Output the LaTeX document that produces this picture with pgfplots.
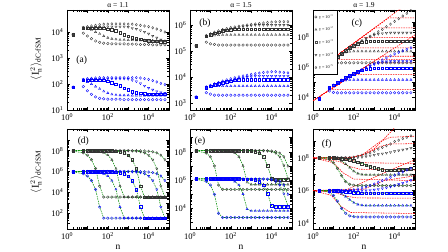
\documentclass[border=0pt]{standalone}
\usepackage{amsmath}
\usepackage{fontspec}
\setmainfont{Liberation Serif}
\usepackage{pgfplots}
\pgfplotsset{compat=1.18}
\usepackage{pgfplotstable}

\newcommand{\tfont}{\fontsize{8.5}{9}\selectfont}
\newcommand{\ttfont}{\fontsize{7.5}{8}\selectfont}
\newcommand{\plab}{\fontsize{9.5}{10}\selectfont}
\newcommand{\ylfont}{\fontsize{10.5}{11}\selectfont}
\newcommand{\lfont}{\fontsize{4.2}{5}\selectfont}

\pgfplotstableread{
n k1 k2 k3 k4 k5 b1 b2 b3 b4 b5
2 8e3 8e3 8e3 8e3 8e3 75 75 75 75 75
6.3 9e3 1.3e4 1.4e4 1.5e4 1.5e4 80 130 140 150 150
10 7e3 1.3e4 1.4e4 1.5e4 1.6e4 55 120 140 150 160
15.8 5.5e3 1.2e4 1.4e4 1.5e4 1.7e4 40 100 140 155 165
25.1 4.5e3 1e4 1.4e4 1.55e4 1.8e4 32 80 140 155 170
39.8 4e3 8.5e3 1.4e4 1.55e4 1.9e4 28 65 140 160 175
63.1 3.7e3 7e3 1.4e4 1.6e4 2e4 27 52 140 160 175
100 3.6e3 6e3 1.3e4 1.6e4 2e4 26 45 130 160 175
158 3.5e3 5.5e3 1.2e4 1.6e4 2.05e4 26 40 115 160 175
251 3.5e3 5.2e3 1.1e4 1.6e4 2.05e4 26 38 100 160 175
398 3.5e3 5e3 9.5e3 1.6e4 2.05e4 26 37 85 160 175
631 3.5e3 5e3 8e3 1.6e4 2.05e4 25 37 70 160 175
1000 3.4e3 4.9e3 7e3 1.55e4 2e4 25 37 60 155 175
1585 3.4e3 4.9e3 6.2e3 1.4e4 2e4 25 36 52 140 175
2512 3.4e3 4.8e3 5.6e3 1.3e4 1.9e4 25 36 47 125 175
3981 3.3e3 4.8e3 5.2e3 1.15e4 1.8e4 25 36 44 105 170
6310 3.3e3 4.8e3 4.9e3 1e4 1.7e4 25 36 42 85 160
10000 3.3e3 4.7e3 4.7e3 8.5e3 1.6e4 25 36 41 70 150
15849 3.2e3 4.7e3 4.5e3 7e3 1.45e4 25 36 40 60 135
25119 3.2e3 4.6e3 4.4e3 6e3 1.3e4 25 36 40 52 120
39811 3.2e3 4.6e3 4.3e3 5e3 1.15e4 25 36 40 47 105
63096 3.2e3 4.5e3 4.2e3 4.5e3 1e4 25 36 40 45 95
}\tA

\pgfplotstableread{
n k1 k2 k3 k4 k5 b1 b2 b3 b4 b5
2 1.6e5 1.6e5 1.6e5 1.6e5 1.6e5 1.7e3 1.7e3 1.7e3 1.7e3 1.7e3
6.3 2.2e5 3.5e5 3.7e5 3.8e5 4e5 2.5e3 4e3 4e3 4e3 4.2e3
10 1.9e5 3.8e5 4.2e5 4.3e5 4.6e5 2.2e3 4.3e3 4.5e3 4.6e3 4.8e3
15.8 1.8e5 4e5 4.8e5 4.9e5 5.3e5 2e3 4.5e3 5e3 5.2e3 5.5e3
25.1 1.7e5 4.1e5 5.4e5 5.5e5 6e5 2e3 4.5e3 5.5e3 5.8e3 6.2e3
39.8 1.7e5 4.2e5 6e5 6.1e5 6.7e5 2e3 4.5e3 6e3 6.4e3 7e3
63.1 1.7e5 4.2e5 6.4e5 6.7e5 7.3e5 2e3 4.5e3 6.5e3 7e3 7.8e3
100 1.7e5 4.2e5 6.7e5 7.3e5 8e5 2e3 4.5e3 7e3 7.6e3 8.6e3
158 1.7e5 4.2e5 6.9e5 7.8e5 8.5e5 2e3 4.5e3 7.5e3 8.2e3 9.4e3
251 1.7e5 4.2e5 7e5 8.3e5 9e5 2e3 4.5e3 8e3 8.8e3 1.02e4
398 1.7e5 4.2e5 7e5 8.8e5 9.5e5 2e3 4.5e3 8e3 9.4e3 1.1e4
631 1.7e5 4.2e5 7e5 9.2e5 1e6 2e3 4.5e3 8e3 1e4 1.18e4
1000 1.7e5 4.2e5 7e5 9.6e5 1.05e6 2e3 4.5e3 8e3 1.05e4 1.26e4
1585 1.7e5 4.2e5 7e5 1e6 1.1e6 2e3 4.5e3 8e3 1.1e4 1.34e4
2512 1.7e5 4.2e5 7e5 1e6 1.15e6 2e3 4.5e3 8e3 1.1e4 1.42e4
3981 1.7e5 4.2e5 7e5 1e6 1.2e6 2e3 4.5e3 8e3 1.1e4 1.5e4
6310 1.7e5 4.2e5 7e5 1e6 1.25e6 2e3 4.5e3 8e3 1.1e4 1.55e4
10000 1.7e5 4.2e5 7e5 1e6 1.3e6 2e3 4.5e3 8e3 1.1e4 1.6e4
15849 1.7e5 4.2e5 7e5 1e6 1.33e6 2e3 4.5e3 8e3 1.1e4 1.6e4
25119 1.7e5 4.2e5 7e5 1e6 1.35e6 2e3 4.5e3 8e3 1.1e4 1.55e4
39811 1.7e5 4.2e5 7e5 1e6 1.35e6 2e3 4.5e3 8e3 1.1e4 1.5e4
63096 1.7e5 4.2e5 7e5 1e6 1.35e6 2e3 4.5e3 8e3 1.1e4 1.45e4
}\tB

\pgfplotstableread{
n k1 k2 k3 k4 k5 b1 b2 b3 b4 b5
2 5.6e5 5.6e5 5.6e5 5.6e5 5.6e5 7.8e3 7.8e3 7.8e3 7.8e3 7.8e3
6.3 1.9e6 2e6 2e6 2e6 2e6 2.5e4 4e4 4e4 4e4 4e4
10 1.9e6 3.2e6 3.2e6 3.2e6 3.2e6 2e4 6e4 6e4 6e4 6e4
15.8 1.9e6 5e6 5e6 5e6 5e6 1.9e4 8.5e4 8.9e4 8.9e4 8.9e4
25.1 1.9e6 7.5e6 7.9e6 7.9e6 7.9e6 1.9e4 1.1e5 1.3e5 1.3e5 1.3e5
39.8 1.9e6 9.5e6 1.26e7 1.26e7 1.26e7 1.9e4 1.3e5 1.9e5 1.9e5 1.9e5
63.1 1.9e6 1.05e7 1.9e7 1.9e7 1.9e7 1.9e4 1.4e5 2.6e5 2.6e5 2.6e5
100 1.9e6 1.1e7 2.7e7 2.8e7 2.8e7 1.9e4 1.4e5 3.6e5 3.6e5 3.6e5
158 1.9e6 1.1e7 3.6e7 4e7 4e7 1.9e4 1.4e5 4.7e5 4.9e5 4.9e5
251 1.9e6 1.1e7 4.4e7 5.6e7 5.6e7 1.9e4 1.4e5 6e5 6.6e5 6.6e5
398 1.9e6 1.1e7 4.9e7 7.9e7 7.9e7 1.9e4 1.4e5 7e5 8.9e5 8.9e5
631 1.9e6 1.1e7 5.1e7 1.05e8 1.12e8 1.9e4 1.4e5 7.8e5 1.2e6 1.2e6
1000 1.9e6 1.1e7 5.2e7 1.35e8 1.58e8 1.9e4 1.4e5 8.3e5 1.5e6 1.6e6
1585 1.9e6 1.1e7 5.2e7 1.6e8 2.24e8 1.9e4 1.4e5 8.5e5 1.8e6 2.1e6
2512 1.9e6 1.1e7 5.2e7 1.75e8 3.16e8 1.9e4 1.4e5 8.5e5 2.1e6 2.9e6
3981 1.9e6 1.1e7 5.2e7 1.85e8 4.8e8 1.9e4 1.4e5 8.5e5 2.3e6 4e6
6310 1.9e6 1.1e7 5.2e7 1.9e8 7.2e8 1.9e4 1.4e5 8.5e5 2.4e6 5.5e6
10000 1.9e6 1.1e7 5.2e7 1.9e8 1.1e9 1.9e4 1.4e5 8.5e5 2.4e6 7.4e6
15849 1.9e6 1.1e7 5.2e7 1.9e8 1.66e9 1.9e4 1.4e5 8.5e5 2.4e6 9.5e6
25119 1.9e6 1.1e7 5.2e7 1.9e8 2.5e9 1.9e4 1.4e5 8.5e5 2.4e6 1.2e7
39811 1.9e6 1.1e7 5.2e7 1.9e8 3.8e9 1.9e4 1.4e5 8.5e5 2.4e6 1.5e7
63096 1.9e6 1.1e7 5.2e7 1.9e8 5.75e9 1.9e4 1.4e5 8.5e5 2.4e6 1.9e7
}\tC

\pgfplotstableread{
n k1 k2 k3 k4 k5 b1 b2 b3 b4 b5
2 9.1e7 1e8 1e8 1e8 1e8 9.1e5 1e6 1e6 1e6 1e6
6.3 6.1e7 1e8 1e8 1e8 1e8 6.1e5 1e6 1e6 1e6 1e6
10 3.7e7 9.7e7 1e8 1e8 1e8 3.7e5 9.7e5 1e6 1e6 1e6
15.8 1.35e7 9.4e7 1e8 1e8 1e8 1.35e5 9.4e5 1e6 1e6 1e6
25.1 1.9e6 8.8e7 1e8 1e8 1e8 1.9e4 8.8e5 1e6 1e6 1e6
39.8 3.95e4 7.8e7 1e8 1e8 1e8 393 7.8e5 1e6 1e6 1e6
63.1 3.5e3 6.1e7 1e8 1e8 1e8 33 6.1e5 1e6 1e6 1e6
100 3.5e3 3.7e7 9.7e7 1e8 1e8 33 3.7e5 9.7e5 1e6 1e6
158 3.5e3 1.35e7 9.4e7 1e8 1e8 33 1.35e5 9.4e5 1e6 1e6
251 3.5e3 1.9e6 8.8e7 1e8 1e8 33 1.9e4 8.8e5 1e6 1e6
398 3.5e3 3.95e4 7.8e7 1e8 1e8 33 393 7.8e5 1e6 1e6
631 3.5e3 3.5e3 6.1e7 1e8 1e8 33 33 6.1e5 1e6 1e6
1000 3.5e3 3.5e3 3.7e7 9.7e7 1e8 33 33 3.7e5 9.7e5 1e6
1585 3.5e3 3.5e3 1.35e7 9.4e7 1e8 33 33 1.35e5 9.4e5 1e6
2512 3.5e3 3.5e3 1.9e6 8.8e7 1e8 33 33 1.9e4 8.8e5 1e6
3981 3.5e3 3.5e3 3.95e4 7.8e7 9.7e7 33 33 393 7.8e5 9.7e5
6310 3.5e3 3.5e3 3.5e3 6.1e7 9.4e7 33 33 33 6.1e5 9.4e5
10000 3.5e3 3.5e3 3.5e3 3.7e7 8.8e7 33 33 33 3.7e5 8.8e5
15849 3.5e3 3.5e3 3.5e3 1.35e7 7.8e7 33 33 33 1.35e5 7.8e5
25119 3.5e3 3.5e3 3.5e3 1.9e6 6.1e7 33 33 33 1.9e4 6.1e5
39811 3.5e3 3.5e3 3.5e3 3.95e4 3.7e7 33 33 33 393 3.7e5
63096 3.5e3 3.5e3 3.5e3 3.5e3 1.35e7 33 33 33 33 1.35e5
}\tD

\pgfplotstableread{
n k1 k2 k3 k4 k5 b1 b2 b3 b4 b5
2 1.15e8 1.2e8 1.2e8 1.2e8 1.2e8 1.15e6 1.2e6 1.2e6 1.2e6 1.2e6
6.3 8e7 1.2e8 1.2e8 1.2e8 1.2e8 8e5 1.2e6 1.2e6 1.2e6 1.2e6
10 4.45e7 1.2e8 1.2e8 1.2e8 1.2e8 4.45e5 1.2e6 1.2e6 1.2e6 1.2e6
15.8 9.9e6 1.2e8 1.2e8 1.2e8 1.2e8 9.9e4 1.2e6 1.2e6 1.2e6 1.2e6
25.1 4.4e5 1.19e8 1.2e8 1.2e8 1.2e8 4.5e3 1.19e6 1.2e6 1.2e6 1.2e6
39.8 2.2e5 1.17e8 1.2e8 1.2e8 1.2e8 2.3e3 1.17e6 1.2e6 1.2e6 1.2e6
63.1 2.2e5 1.13e8 1.2e8 1.2e8 1.2e8 2.3e3 1.13e6 1.2e6 1.2e6 1.2e6
100 2.2e5 1.02e8 1.2e8 1.2e8 1.2e8 2.3e3 1.02e6 1.2e6 1.2e6 1.2e6
158 2.2e5 8e7 1.2e8 1.2e8 1.2e8 2.3e3 8e5 1.2e6 1.2e6 1.2e6
251 2.2e5 4.45e7 1.2e8 1.2e8 1.2e8 2.3e3 4.45e5 1.2e6 1.2e6 1.2e6
398 2.2e5 1.02e7 1.19e8 1.2e8 1.2e8 2.3e3 1.04e5 1.19e6 1.2e6 1.2e6
631 2.2e5 7e5 1.17e8 1.2e8 1.2e8 2.3e3 8.9e3 1.17e6 1.2e6 1.2e6
1000 2.2e5 4.9e5 1.13e8 1.2e8 1.2e8 2.3e3 6.7e3 1.13e6 1.2e6 1.2e6
1585 2.2e5 4.9e5 1.02e8 1.2e8 1.2e8 2.3e3 6.7e3 1.02e6 1.2e6 1.2e6
2512 2.2e5 4.9e5 8e7 1.19e8 1.2e8 2.3e3 6.7e3 8e5 1.19e6 1.2e6
3981 2.2e5 4.9e5 4.5e7 1.17e8 1.2e8 2.3e3 6.7e3 4.5e5 1.17e6 1.2e6
6310 2.2e5 4.9e5 1.07e7 1.13e8 1.17e8 2.3e3 6.7e3 1.1e5 1.13e6 1.17e6
10000 2.2e5 4.9e5 1.3e6 1.02e8 1.13e8 2.3e3 6.7e3 1.5e4 1.02e6 1.13e6
15849 2.2e5 4.9e5 1.1e6 8e7 1.02e8 2.3e3 6.7e3 1.3e4 8e5 1.02e6
25119 2.2e5 4.9e5 1.1e6 4.5e7 8e7 2.3e3 6.7e3 1.3e4 4.5e5 8e5
39811 2.2e5 4.9e5 1.1e6 1.07e7 4.45e7 2.3e3 6.7e3 1.3e4 1.1e5 4.45e5
63096 2.2e5 4.9e5 1.1e6 1.3e6 9.7e6 2.3e3 6.7e3 1.3e4 1.5e4 9.9e4
}\tE

\pgfplotstableread{
n k1 k2 k3 k4 k5 b1 b2 b3 b4 b5
2 1e8 1e8 1e8 1e8 1e8 1e6 1e6 1e6 1e6 1e6
6.3 8e7 1e8 1e8 1e8 1e8 8e5 1e6 1e6 1e6 1e6
10 5e7 9.5e7 1e8 1e8 1e8 5e5 9.5e5 1e6 1e6 1e6
15.8 2.2e7 8.5e7 9.5e7 1e8 1e8 2.2e5 8.5e5 9.7e5 1e6 1e6
25.1 8e6 6.5e7 9e7 1e8 1e8 8e4 6.5e5 9.3e5 1e6 1e6
39.8 3.5e6 4.2e7 8.3e7 1e8 1e8 4e4 4.3e5 8.8e5 1e6 1e6
63.1 2.4e6 2.5e7 7.5e7 1e8 1.03e8 2.8e4 2.7e5 8.2e5 1e6 1.03e6
100 2.1e6 1.5e7 6.5e7 1e8 1.1e8 2.5e4 1.8e5 7.6e5 1e6 1.1e6
158 2e6 1.1e7 5.5e7 1.05e8 1.25e8 2.4e4 1.4e5 7.2e5 1e6 1.25e6
251 2e6 9.5e6 4.5e7 1.1e8 1.45e8 2.4e4 1.25e5 7e5 1e6 1.45e6
398 2e6 9e6 3.6e7 1.2e8 1.7e8 2.4e4 1.2e5 7e5 1e6 1.7e6
631 2e6 9e6 2.9e7 1.35e8 2e8 2.4e4 1.2e5 7e5 1.05e6 2e6
1000 2e6 9e6 2.4e7 1.5e8 2.5e8 2.4e4 1.2e5 7e5 1.1e6 2.5e6
1585 2e6 9e6 2.1e7 1.65e8 3.4e8 2.4e4 1.2e5 7e5 1.2e6 3.2e6
2512 2e6 9e6 1.9e7 1.8e8 4.3e8 2.4e4 1.2e5 7e5 1.35e6 4e6
3981 2e6 9e6 1.8e7 2e8 5.5e8 2.4e4 1.2e5 7e5 1.5e6 5e6
6310 2e6 9e6 1.8e7 2.2e8 7e8 2.4e4 1.2e5 7e5 1.7e6 6.5e6
10000 2e6 9e6 1.8e7 2.5e8 1e9 2.4e4 1.2e5 7e5 2e6 8.5e6
15849 2e6 9e6 1.85e7 2.8e8 1.2e9 2.4e4 1.2e5 7e5 2.4e6 1.1e7
25119 2e6 9e6 1.9e7 3.1e8 1.5e9 2.4e4 1.2e5 7e5 2.9e6 1.4e7
39811 2e6 9e6 2e7 3.5e8 1.8e9 2.4e4 1.2e5 7e5 3.5e6 1.8e7
63096 2e6 9e6 2.1e7 4e8 2.2e9 2.4e4 1.2e5 7e5 4.2e6 2.3e7
}\tF

\pgfplotsset{
  panelax/.style={scale only axis, width=102pt, height=100pt,
    xmin=1, xmax=1e5, xtick={1,10,100,1000,10000,100000},
    xticklabels={10\textsuperscript{0},,10\textsuperscript{2},,10\textsuperscript{4},},
    tick align=inside, major tick length=3pt, minor tick length=1.6pt,
    every tick/.style={black, line width=0.35pt},
    axis line style={line width=0.6pt},
    ticklabel style={font=\tfont}, xticklabel style={yshift=-0.5pt}},
  kk/.style={black!80, mark size=1.3pt, line width=0.35pt, only marks, forget plot},
  bb/.style={blue, mark size=1.3pt, line width=0.35pt, only marks, forget plot},
  m1/.style={mark=o}, m2/.style={mark=triangle}, m3/.style={mark=square},
  m4/.style={mark=triangle, mark options={rotate=180}}, m5/.style={mark=diamond},
  gd/.style={green!55!black, dash pattern=on 1.5pt off 1pt, line width=0.55pt, no marks, forget plot},
  rd/.style={red, dash pattern=on 1.5pt off 1pt, line width=0.55pt, no marks, forget plot},
}

\newcommand{\allmarks}[1]{%
\addplot[kk,m1] table[x=n,y=k1]{#1};
\addplot[kk,m2] table[x=n,y=k2]{#1};
\addplot[kk,m3] table[x=n,y=k3]{#1};
\addplot[kk,m4] table[x=n,y=k4]{#1};
\addplot[kk,m5] table[x=n,y=k5]{#1};
\addplot[bb,m1] table[x=n,y=b1]{#1};
\addplot[bb,m2] table[x=n,y=b2]{#1};
\addplot[bb,m3] table[x=n,y=b3]{#1};
\addplot[bb,m4] table[x=n,y=b4]{#1};
\addplot[bb,m5] table[x=n,y=b5]{#1};
}
\newcommand{\allgreens}[1]{%
\addplot[gd] table[x=n,y=k1]{#1};
\addplot[gd] table[x=n,y=k2]{#1};
\addplot[gd] table[x=n,y=k3]{#1};
\addplot[gd] table[x=n,y=k4]{#1};
\addplot[gd] table[x=n,y=k5]{#1};
\addplot[gd] table[x=n,y=b1]{#1};
\addplot[gd] table[x=n,y=b2]{#1};
\addplot[gd] table[x=n,y=b3]{#1};
\addplot[gd] table[x=n,y=b4]{#1};
\addplot[gd] table[x=n,y=b5]{#1};
}
\newcommand{\ten}[1]{10\textsuperscript{#1}}
\newcommand{\ylab}{$\langle \mathrm{I}_{\mathrm{n}}^{\,2}\rangle_{\mathrm{dC\text{-}fSM}}$}

\begin{document}
\begin{tikzpicture}
\useasboundingbox (0pt,0pt) rectangle (448pt,252pt);

% (a)
\begin{loglogaxis}[panelax, at={(67pt,242pt)}, anchor=north west, ymin=10, ymax=7e4,
  ytick={10,100,1000,10000}, yticklabels={\ten{1},\ten{2},\ten{3},\ten{4}}]
\allmarks{\tA}
\node[font=\plab] at (rel axis cs:0.144,0.5) {(a)};
\end{loglogaxis}

% (b)
\begin{loglogaxis}[panelax, at={(190pt,242pt)}, anchor=north west, ymin=540, ymax=3.8e6,
  ytick={1e3,1e4,1e5,1e6}, yticklabels={\ten{3},\ten{4},\ten{5},\ten{6}}]
\allmarks{\tB}
\node[font=\plab] at (rel axis cs:0.147,0.866) {(b)};
\end{loglogaxis}

% (c)
\begin{loglogaxis}[panelax, at={(313pt,242pt)}, anchor=north west, ymin=1350, ymax=6.3e9,
  ytick={1e4,1e5,1e6,1e7,1e8,1e9}, yticklabels={\ten{4},,\ten{6},,\ten{8},},
  legend style={at={(0,1)}, anchor=north west, font=\lfont, draw=black, line width=0.4pt,
    row sep=3.2pt, inner xsep=1.5pt, inner ysep=2pt, cells={anchor=west}}]
\addplot[rd] coordinates {(1,4e5) (2e4,7.9e9)};
\addplot[rd] coordinates {(1,4e5) (7.9,3.1e6) (1e5,3.1e6)};
\addplot[rd] coordinates {(1,4e5) (50,1.9e7) (1e5,1.9e7)};
\addplot[rd] coordinates {(1,4e5) (254,9.5e7) (1e5,9.5e7)};
\addplot[rd] coordinates {(1,4e5) (1070,4e8) (1e5,4e8)};
\addplot[rd] coordinates {(1,4e5) (5200,1.9e9) (1e5,1.9e9)};
\addplot[rd] coordinates {(1,5.6e3) (1e5,1.4e8)};
\addplot[rd] coordinates {(1,5.6e3) (6.9,3.1e4) (1e5,3.1e4)};
\addplot[rd] coordinates {(1,5.6e3) (95,3.1e5) (1e5,3.1e5)};
\addplot[rd] coordinates {(1,5.6e3) (750,1.9e6) (1e5,1.9e6)};
\addplot[rd] coordinates {(1,5.6e3) (2350,5.2e6) (1e5,5.2e6)};
\allmarks{\tC}
\addlegendimage{only marks, black!70, mark size=1.2pt, mark=o}
\addlegendentry{γ = 10\textsuperscript{−1}}
\addlegendimage{only marks, black!70, mark size=1.2pt, mark=triangle}
\addlegendentry{γ = 10\textsuperscript{−2}}
\addlegendimage{only marks, black!70, mark size=1.2pt, mark=square}
\addlegendentry{γ = 10\textsuperscript{−3}}
\addlegendimage{only marks, black!70, mark size=1.2pt, mark=triangle, mark options={rotate=180}}
\addlegendentry{γ = 10\textsuperscript{−4}}
\addlegendimage{only marks, black!70, mark size=1.2pt, mark=diamond}
\addlegendentry{γ = 10\textsuperscript{−5}}
\node[font=\plab, fill=white, inner sep=0.5pt] at (rel axis cs:0.43,0.87) {(c)};
\end{loglogaxis}

% (d)
\begin{loglogaxis}[panelax, at={(67pt,123pt)}, anchor=north west, ymin=3, ymax=1.2e10,
  ytick={1e1,1e2,1e3,1e4,1e5,1e6,1e7,1e8,1e9}, yticklabels={,\ten{2},,\ten{4},,\ten{6},,\ten{8},}]
\allgreens{\tD}
\allmarks{\tD}
\node[font=\plab] at (rel axis cs:0.16,0.874) {(d)};
\end{loglogaxis}

% (e)
\begin{loglogaxis}[panelax, at={(190pt,123pt)}, anchor=north west, ymin=355, ymax=4e9,
  ytick={1e3,1e4,1e5,1e6,1e7,1e8,1e9}, yticklabels={,\ten{4},,\ten{6},,\ten{8},}]
\allgreens{\tE}
\allmarks{\tE}
\node[font=\plab] at (rel axis cs:0.098,0.874) {(e)};
\end{loglogaxis}

% (f)
\begin{loglogaxis}[panelax, at={(313pt,123pt)}, anchor=north west, ymin=4400, ymax=5.8e9,
  ytick={1e4,1e5,1e6,1e7,1e8,1e9}, yticklabels={\ten{4},,\ten{6},,\ten{8},}]
\addplot[rd] coordinates {(1,1e8) (60,1.02e8) (260,1.5e8) (1000,3.5e8) (1.1e4,7.6e9)};
\addplot[rd] coordinates {(1,1e8) (60,1.02e8) (260,1.5e8) (2000,1e9) (6000,1.8e9) (1e5,2.1e9)};
\addplot[rd] coordinates {(1,1e8) (100,1.05e8) (500,2e8) (2000,5e8) (6000,7e8) (1e5,7.4e8)};
\addplot[rd] coordinates {(1,1e8) (30,9e7) (100,6.5e7) (300,5e7) (1e5,4.5e7)};
\addplot[rd] coordinates {(1,1e8) (20,6e7) (60,3e7) (200,2e7) (1e5,1.8e7)};
\addplot[rd] coordinates {(1,1e8) (10,5e7) (30,1.2e7) (100,5e6) (1e5,4e6)};
\addplot[rd] coordinates {(1,1e6) (40,1.05e6) (1e4,2.3e7) (1e5,7.5e7)};
\addplot[rd] coordinates {(1,1e6) (300,1.2e6) (3000,4e6) (1e5,8e6)};
\addplot[rd] coordinates {(1,1e6) (10,8e5) (40,4.5e5) (150,3.5e5) (1e5,3.4e5)};
\addplot[rd] coordinates {(1,1e6) (8,5e5) (25,1e5) (70,4.5e4) (1e5,3.9e4)};
\addplot[gd] table[x=n,y=k1]{\tF};
\addplot[gd] table[x=n,y=k2]{\tF};
\addplot[gd] table[x=n,y=k3]{\tF};
\addplot[gd] table[x=n,y=b1]{\tF};
\addplot[gd] table[x=n,y=b2]{\tF};
\addplot[gd] table[x=n,y=b3]{\tF};
\allmarks{\tF}
\node[font=\plab] at (rel axis cs:0.134,0.85) {(f)};
\end{loglogaxis}

% titles and labels
\node[font=\ttfont] at (118pt,247pt) {α = 1.1};
\node[font=\ttfont] at (241pt,247pt) {α = 1.5};
\node[font=\ttfont] at (364pt,247pt) {α = 1.9};
\node[font=\ylfont, rotate=90] at (36pt,193pt) {\ylab};
\node[font=\ylfont, rotate=90] at (36pt,80pt) {\ylab};
\node[font=\plab] at (118pt,5pt) {n};
\node[font=\plab] at (241pt,5pt) {n};
\node[font=\plab] at (364pt,5pt) {n};
\end{tikzpicture}
\end{document}
